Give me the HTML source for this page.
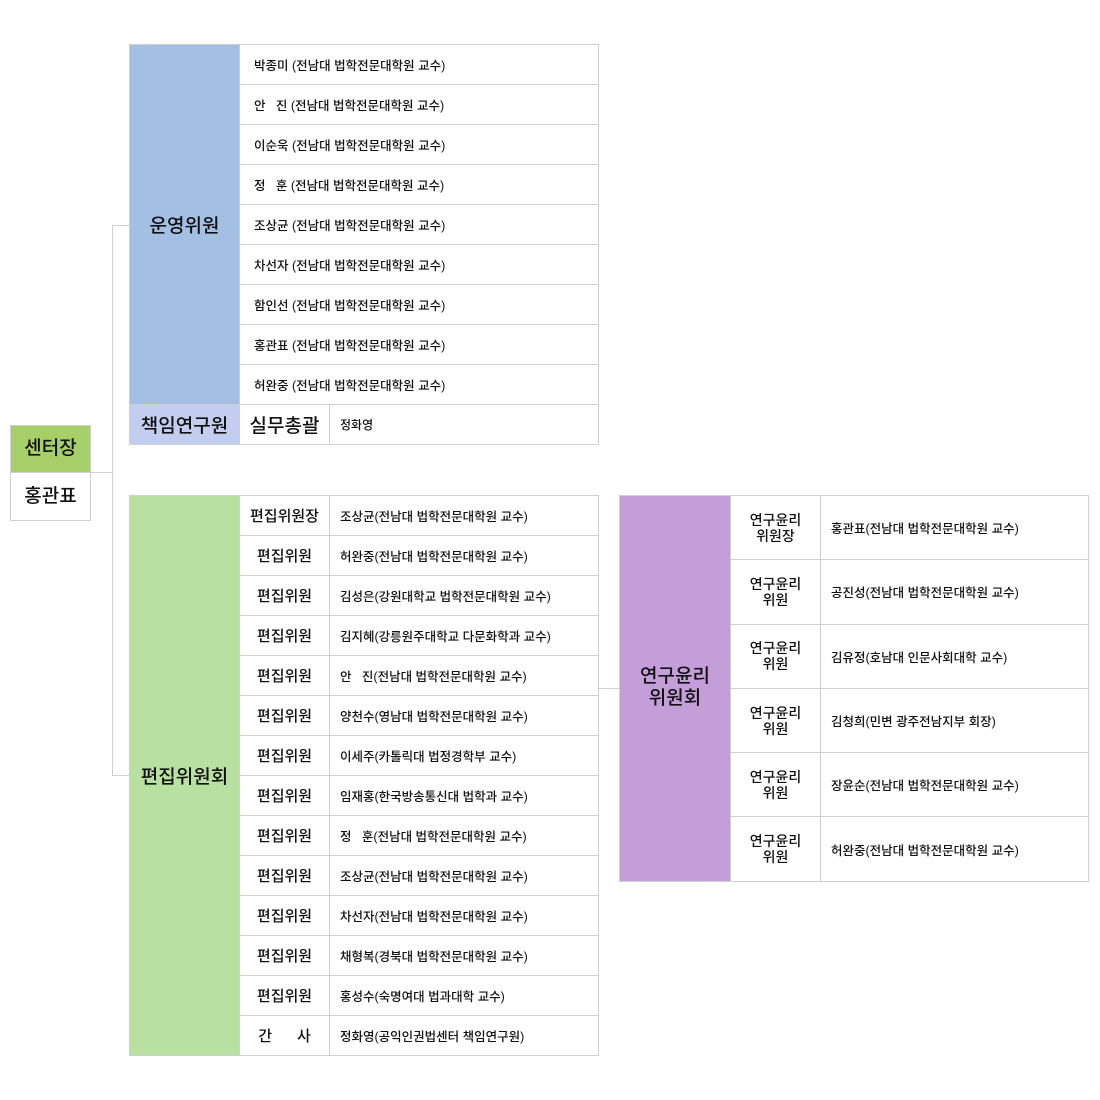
<!DOCTYPE html>
<html><head><meta charset="utf-8"><style>
body{margin:0;width:1100px;height:1100px;background:#fff;position:relative;font-family:"Liberation Sans","Noto Sans CJK KR",sans-serif;color:#111;overflow:hidden}
.a{position:absolute;box-sizing:border-box}
table{position:absolute;border-collapse:collapse}
td{border:1px solid #cfcfcf;padding:0;font-size:12.5px;box-sizing:border-box;font-weight:500}
.c{text-align:center;font-size:15px}
.l{padding-left:14px}
.ln{position:absolute;background:#cfcfcf}
</style></head><body>
<div class="a" style="left:10px;top:425px;width:81px;height:48px;background:#a6cf6a;border:1px solid #cfcfcf;font-size:19px;text-align:center;line-height:46px;font-weight:500">센터장</div>
<div class="a" style="left:10px;top:472px;width:81px;height:49px;background:#fff;border:1px solid #cfcfcf;font-size:19px;text-align:center;line-height:47px;font-weight:500">홍관표</div>
<div class="ln" style="left:90px;top:472px;width:23px;height:1px"></div>
<div class="ln" style="left:112px;top:225px;width:1px;height:551px"></div>
<div class="ln" style="left:112px;top:225px;width:17px;height:1px"></div>
<div class="ln" style="left:112px;top:775px;width:17px;height:1px"></div>
<div class="ln" style="left:599px;top:688px;width:20px;height:1px"></div>

<table style="left:129px;top:44px;width:470px">
<tr style="height:40px"><td rowspan="9" style="width:110px;background:#a3c0e4;text-align:center;font-size:19px">운영위원</td><td colspan="2" class="l">박종미 (전남대 법학전문대학원 교수)</td></tr>
<tr style="height:40px"><td colspan="2" class="l">안 &nbsp;&nbsp;진 (전남대 법학전문대학원 교수)</td></tr>
<tr style="height:40px"><td colspan="2" class="l">이순욱 (전남대 법학전문대학원 교수)</td></tr>
<tr style="height:40px"><td colspan="2" class="l">정 &nbsp;&nbsp;훈 (전남대 법학전문대학원 교수)</td></tr>
<tr style="height:40px"><td colspan="2" class="l">조상균 (전남대 법학전문대학원 교수)</td></tr>
<tr style="height:40px"><td colspan="2" class="l">차선자 (전남대 법학전문대학원 교수)</td></tr>
<tr style="height:40px"><td colspan="2" class="l">함인선 (전남대 법학전문대학원 교수)</td></tr>
<tr style="height:40px"><td colspan="2" class="l">홍관표 (전남대 법학전문대학원 교수)</td></tr>
<tr style="height:40px"><td colspan="2" class="l">허완중 (전남대 법학전문대학원 교수)</td></tr>
<tr style="height:40px"><td style="background:#c3cdf0;text-align:center;font-size:19px">책임연구원</td><td style="width:90px;text-align:center;font-size:19px">실무총괄</td><td class="l" style="padding-left:10px;font-size:12px">정화영</td></tr>
</table>

<table style="left:129px;top:495px;width:470px">
<tr style="height:40px"><td rowspan="14" style="width:110px;background:#b8e0a0;text-align:center;font-size:19px">편집위원회</td><td class="c" style="width:90px">편집위원장</td><td class="l" style="padding-left:10px">조상균(전남대 법학전문대학원 교수)</td></tr>
<tr style="height:40px"><td class="c">편집위원</td><td style="padding-left:10px">허완중(전남대 법학전문대학원 교수)</td></tr>
<tr style="height:40px"><td class="c">편집위원</td><td style="padding-left:10px">김성은(강원대학교 법학전문대학원 교수)</td></tr>
<tr style="height:40px"><td class="c">편집위원</td><td style="padding-left:10px">김지혜(강릉원주대학교 다문화학과 교수)</td></tr>
<tr style="height:40px"><td class="c">편집위원</td><td style="padding-left:10px">안 &nbsp;&nbsp;진(전남대 법학전문대학원 교수)</td></tr>
<tr style="height:40px"><td class="c">편집위원</td><td style="padding-left:10px">양천수(영남대 법학전문대학원 교수)</td></tr>
<tr style="height:40px"><td class="c">편집위원</td><td style="padding-left:10px">이세주(카톨릭대 법정경학부 교수)</td></tr>
<tr style="height:40px"><td class="c">편집위원</td><td style="padding-left:10px">임재홍(한국방송통신대 법학과 교수)</td></tr>
<tr style="height:40px"><td class="c">편집위원</td><td style="padding-left:10px">정 &nbsp;&nbsp;훈(전남대 법학전문대학원 교수)</td></tr>
<tr style="height:40px"><td class="c">편집위원</td><td style="padding-left:10px">조상균(전남대 법학전문대학원 교수)</td></tr>
<tr style="height:40px"><td class="c">편집위원</td><td style="padding-left:10px">차선자(전남대 법학전문대학원 교수)</td></tr>
<tr style="height:40px"><td class="c">편집위원</td><td style="padding-left:10px">채형복(경북대 법학전문대학원 교수)</td></tr>
<tr style="height:40px"><td class="c">편집위원</td><td style="padding-left:10px">홍성수(숙명여대 법과대학 교수)</td></tr>
<tr style="height:40px"><td class="c">간 &nbsp;&nbsp;&nbsp;&nbsp;&nbsp;사</td><td style="padding-left:10px">정화영(공익인권법센터 책임연구원)</td></tr>
</table>

<table style="left:619px;top:495px;width:470px">
<tr style="height:64.3px"><td rowspan="6" style="width:111px;background:#c39ed8;text-align:center;font-size:19px;line-height:22px">연구윤리<br>위원회</td><td class="c" style="width:90px;font-size:14px;line-height:16px">연구윤리<br>위원장</td><td style="padding-left:10px">홍관표(전남대 법학전문대학원 교수)</td></tr>
<tr style="height:64.3px"><td class="c" style="font-size:14px;line-height:16px">연구윤리<br>위원</td><td style="padding-left:10px">공진성(전남대 법학전문대학원 교수)</td></tr>
<tr style="height:64.3px"><td class="c" style="font-size:14px;line-height:16px">연구윤리<br>위원</td><td style="padding-left:10px">김유정(호남대 인문사회대학 교수)</td></tr>
<tr style="height:64.3px"><td class="c" style="font-size:14px;line-height:16px">연구윤리<br>위원</td><td style="padding-left:10px">김청희(민변 광주전남지부 회장)</td></tr>
<tr style="height:64.3px"><td class="c" style="font-size:14px;line-height:16px">연구윤리<br>위원</td><td style="padding-left:10px">장윤순(전남대 법학전문대학원 교수)</td></tr>
<tr style="height:64.3px"><td class="c" style="font-size:14px;line-height:16px">연구윤리<br>위원</td><td style="padding-left:10px">허완중(전남대 법학전문대학원 교수)</td></tr>
</table>
</body></html>
